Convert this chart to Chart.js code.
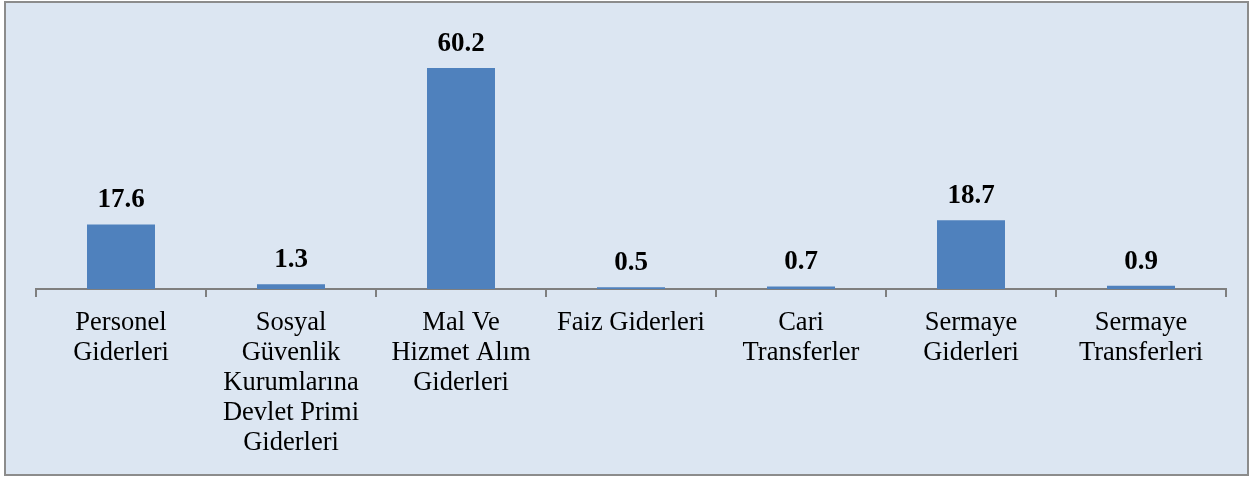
<!DOCTYPE html>
<html>
<head>
<meta charset="utf-8">
<script src="https://cdn.jsdelivr.net/npm/chart.js@4/dist/chart.umd.min.js"></script>
<style>
html,body{margin:0;padding:0;background:#fff;}
#wrap{width:1254px;height:477px;position:relative;}
</style>
</head>
<body>
<div id="wrap"><canvas id="c" width="1254" height="477"></canvas></div>
<script>
const categories = [
  ["Personel","Giderleri"],
  ["Sosyal","Güvenlik","Kurumlarına","Devlet Primi","Giderleri"],
  ["Mal Ve","Hizmet Alım","Giderleri"],
  ["Faiz Giderleri"],
  ["Cari","Transferler"],
  ["Sermaye","Giderleri"],
  ["Sermaye","Transferleri"]
];
const values = [17.6, 1.3, 60.2, 0.5, 0.7, 18.7, 0.9];
const yMin = 0;
const yMax = 70;

const framePlugin = {
  id: 'frame',
  beforeDraw(chart) {
    const ctx = chart.ctx;
    ctx.save();
    ctx.fillStyle = '#ffffff';
    ctx.fillRect(0, 0, chart.width, chart.height);
    ctx.fillStyle = '#DCE6F2';
    ctx.fillRect(6, 3, 1242, 471);
    ctx.strokeStyle = '#8C8C8C';
    ctx.lineWidth = 2;
    ctx.strokeRect(5, 2, 1243, 473);
    ctx.restore();
  }
};

const labelPlugin = {
  id: 'valueLabels',
  afterDatasetsDraw(chart) {
    const ctx = chart.ctx;
    const meta = chart.getDatasetMeta(0);
    ctx.save();
    ctx.font = 'bold 27px "Liberation Serif", "Times New Roman", serif';
    ctx.fillStyle = '#000000';
    ctx.textAlign = 'center';
    ctx.textBaseline = 'alphabetic';
    meta.data.forEach((bar, i) => {
      ctx.fillText(values[i].toFixed(1), bar.x, bar.y - 17);
    });
    ctx.restore();
  }
};

new Chart(document.getElementById('c'), {
  type: 'bar',
  data: {
    labels: categories,
    datasets: [{
      data: values,
      backgroundColor: '#4F81BD',
      borderWidth: 0,
      categoryPercentage: 1.0,
      barPercentage: 0.4
    }]
  },
  options: {
    responsive: false,
    animation: false,
    devicePixelRatio: 1,
    layout: { padding: { top: 32, left: 36, right: 28, bottom: 0 } },
    plugins: { legend: { display: false }, tooltip: { enabled: false }, title: { display: false } },
    scales: {
      y: { display: false, min: yMin, max: yMax },
      x: {
        offset: true,
        afterFit(scale) { scale.height = 188; },
        border: { display: true, color: '#7F7F7F', width: 2 },
        grid: { display: true, drawOnChartArea: false, drawTicks: true, tickLength: 8, color: '#7F7F7F', lineWidth: 2, offset: true },
        ticks: {
          color: '#000000',
          padding: 11,
          maxRotation: 0,
          autoSkip: false,
          font: { family: '"Liberation Serif", "Times New Roman", serif', size: 26.5, lineHeight: 1.13 }
        }
      }
    }
  },
  plugins: [framePlugin, labelPlugin]
});
</script>
</body>
</html>
